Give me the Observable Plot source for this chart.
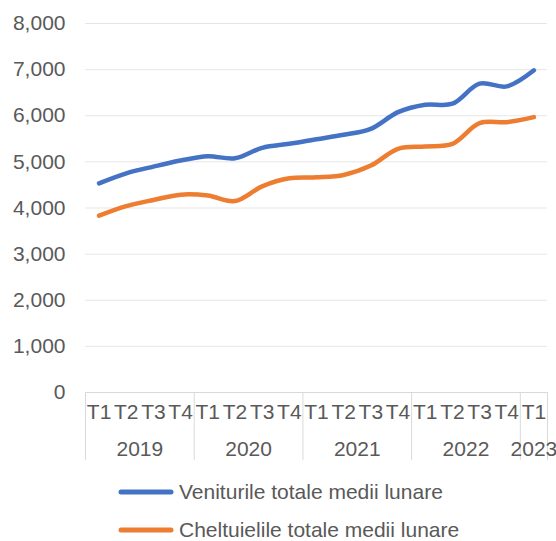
<!DOCTYPE html>
<html>
<head>
<meta charset="utf-8">
<script src="https://cdn.jsdelivr.net/npm/d3@7"></script>
<script src="https://cdn.jsdelivr.net/npm/@observablehq/plot@0.6"></script>
<style>
  html, body { margin: 0; padding: 0; background: #fff; }
  body { width: 556px; height: 541px; overflow: hidden; font-family: "Liberation Sans", Arial, sans-serif; }
  #legend { margin-left: 118px; margin-top: 2px; }
  .row { display: flex; align-items: center; color: #595959; font-size: 21px; }
  .row.first { height: 40px; }
  .row.second { height: 36px; }
  .row span { line-height: 14px; }
  .row svg { margin-right: 4px; }
</style>
</head>
<body>
<div id="chart"></div>
<div id="legend"></div>
<script>
const years = ["2019", "2019", "2019", "2019", "2020", "2020", "2020", "2020", "2021", "2021", "2021", "2021", "2022", "2022", "2022", "2022", "2023"];
const quarters = ["T1", "T2", "T3", "T4", "T1", "T2", "T3", "T4", "T1", "T2", "T3", "T4", "T1", "T2", "T3", "T4", "T1"];
const venituri = [4535, 4752, 4898, 5030, 5122, 5078, 5304, 5391, 5490, 5587, 5717, 6078, 6239, 6261, 6696, 6637, 6985];
const cheltuieli = [3833, 4040, 4174, 4289, 4270, 4150, 4470, 4644, 4665, 4717, 4920, 5283, 5333, 5391, 5839, 5861, 5970];
const seriesNames = ["Veniturile totale medii lunare", "Cheltuielile totale medii lunare"];
const colors = ["#4472C4", "#ED7D31"];
const yTicks = [0, 1000, 2000, 3000, 4000, 5000, 6000, 7000, 8000];

const idx = d3.range(quarters.length);
const data = [
  ...idx.map(i => ({i, v: venituri[i], s: seriesNames[0]})),
  ...idx.map(i => ({i, v: cheltuieli[i], s: seriesNames[1]}))
];

// year groups
const yearNames = Array.from(new Set(years));
const yearCenters = yearNames.map(y => d3.mean(idx.filter(i => years[i] === y)));
const boundaries = [-0.5, ...yearNames.map(y => d3.max(idx.filter(i => years[i] === y)) + 0.5)];

const textColor = "#595959";
const fs = "21px";

const chart = Plot.plot({
  width: 556,
  height: 470,
  marginLeft: 85,
  marginRight: 9,
  marginTop: 23,
  marginBottom: 78,
  style: {fontFamily: '"Liberation Sans", Arial, sans-serif', fontSize: fs, color: textColor, background: "white"},
  x: {domain: [-0.5, quarters.length - 0.5], axis: null},
  y: {domain: [0, 8000], axis: null},
  color: {domain: seriesNames, range: colors},
  marks: [
    Plot.gridY(yTicks.filter(d => d > 0), {stroke: "#e6e6e6", strokeOpacity: 1, strokeWidth: 1}),
    Plot.axisY({ticks: yTicks, tickSize: 0, tickPadding: 20, tickFormat: d3.format(","), fill: textColor, fontSize: fs, label: null}),
    Plot.ruleY([0], {stroke: "#d9d9d9", strokeWidth: 1}),
    Plot.axisX({ticks: boundaries, tickSize: 68, tickFormat: () => "", stroke: "#d9d9d9", strokeOpacity: 1, label: null}),
    Plot.axisX({ticks: idx, tickSize: 0, tickPadding: 12, tickFormat: i => quarters[i], fill: textColor, fontSize: fs, label: null}),
    Plot.axisX({ticks: yearCenters, tickSize: 0, tickPadding: 49, tickFormat: (d, k) => yearNames[yearCenters.indexOf(d)], fill: textColor, fontSize: fs, label: null}),
    Plot.line(data, {x: "i", y: "v", stroke: "s", z: "s", strokeWidth: 4.5, curve: "catmull-rom", strokeLinecap: "round", strokeLinejoin: "round"})
  ]
});
document.getElementById("chart").appendChild(chart);

const legend = document.getElementById("legend");
seriesNames.forEach((name, k) => {
  const row = document.createElement("div");
  row.className = "row " + (k === 0 ? "first" : "second");
  row.innerHTML = `<svg width="57" height="10"><line x1="3" y1="5" x2="53" y2="5" stroke="${colors[k]}" stroke-width="5" stroke-linecap="round"/></svg><span>${name}</span>`;
  legend.appendChild(row);
});
</script>
</body>
</html>
